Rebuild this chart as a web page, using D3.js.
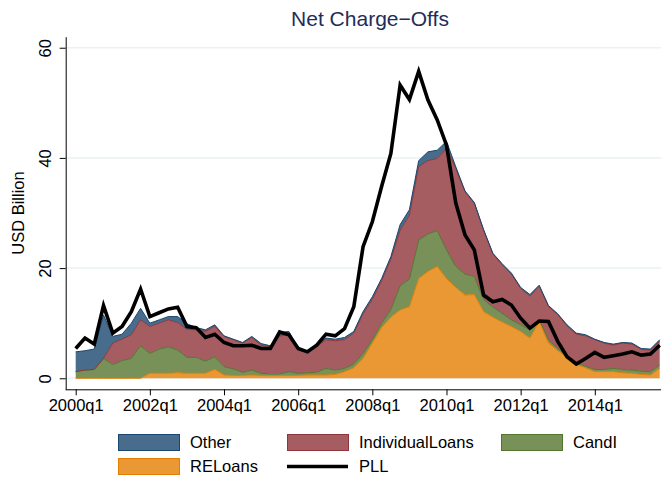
<!DOCTYPE html>
<html>
<head>
<meta charset="utf-8">
<script src="https://cdn.jsdelivr.net/npm/d3@7"></script>
<style>
  body { margin: 0; background: #fff; }
  svg { display: block; font-family: "Liberation Sans", Arial, sans-serif; }
</style>
</head>
<body>
<svg id="chart"></svg>
<script>
const w = 661;
const h = 478;

// quarterly, 2000q1 .. 2015q4
const quarters = d3.range(64).map(i => `${2000 + Math.floor(i / 4)}q${(i % 4) + 1}`);

const RELoans = [0,0,0,0,0,0,0,0,0.9,0.9,0.9,1.0,0.9,0.9,0.9,1.6,0.6,0.5,0.5,0.6,0.5,0.5,0.5,0.5,
  0.5,0.6,0.6,0.6,0.7,1.2,1.9,3.6,6.4,9.2,11.1,12.4,13.0,18.1,19.4,20.3,18.1,16.5,15.1,15.2,12.1,11.1,
  10.2,9.4,8.5,7.3,10.3,6.4,5.0,3.8,2.5,1.9,1.2,1.2,1.2,1.0,0.9,0.7,0.6,1.8];
const CandI = [1.2,1.5,1.6,3.6,2.5,3.2,3.6,5.9,3.6,4.4,4.8,4.1,2.9,2.9,2.2,2.3,1.5,1.2,0.6,0.9,0.4,0.3,0.3,0.7,
  0.4,0.4,0.5,1.2,0.8,0.6,0.7,0.9,0.6,0.8,1.4,4.4,5.0,7.0,6.8,6.5,5.2,3.8,3.8,3.3,2.2,1.8,
  1.6,1.2,1.2,1.5,0.4,0.6,0.4,0.3,0.3,0.3,0.4,0.4,0.6,0.6,0.6,0.6,0.6,0.6];
const IndividualLoans = [0,0,0,0,3.9,3.9,4.3,4.7,4.9,4.7,4.9,5.0,5.1,5.0,5.4,5.5,5.5,5.3,5.3,5.9,5.1,4.9,6.8,6.8,
  4.2,3.8,4.6,5.2,5.3,5.2,5.6,7.2,7.3,7.7,9.1,10.1,11.6,13.3,13.3,13.1,18.4,17.8,14.9,13.3,12.6,9.7,
  8.8,8.3,6.6,6.1,6.0,6.0,6.2,5.4,5.2,5.5,5.4,4.8,4.2,4.8,4.7,4.0,3.9,4.3];
const Other = [3.6,3.5,3.7,7.9,1.2,0.9,2.1,2.1,0.6,0.6,0.6,1.1,1.0,0.4,0.3,0.3,0.1,0.1,0.1,0.2,0.3,0.2,0.7,0.5,
  0.3,0.2,0.3,0.3,0.3,0.4,0.3,0.4,0.5,0.4,0.5,1.0,1.0,1.1,1.6,1.5,1.3,0.3,0.2,0.1,0.1,0.1,
  0.2,0.2,0.2,0.3,0.2,0.2,0.1,0.2,0.2,0.2,0.1,0.1,0.2,0.1,0.2,0.1,0.2,0.3];
const PLL = [5.4,7.3,6.2,13.2,8.2,9.4,12.1,16.2,11.2,11.9,12.6,12.9,9.4,9.2,7.4,8.0,6.5,5.9,5.9,6.0,5.4,5.4,8.4,7.9,
  5.4,4.8,6.0,8.0,7.7,9.0,13.0,23.9,28.4,34.8,40.8,53.2,50.6,55.7,50.5,46.9,42.3,31.8,26.0,23.3,15.1,13.9,
  14.3,13.3,10.9,9.1,10.4,10.3,6.7,3.9,2.6,3.6,4.7,3.8,4.1,4.4,4.8,4.2,4.4,6.0];

const yTicks = [0, 20, 40, 60];
const xTicks = [0, 8, 16, 24, 32, 40, 48, 56];

const stackKeys = ["RELoans", "CandI", "IndividualLoans", "Other"];
const colors = {
  Other: { fill: "#486c8c", stroke: "#1a476f" },
  IndividualLoans: { fill: "#a65d62", stroke: "#90353b" },
  CandI: { fill: "#779159", stroke: "#55752f" },
  RELoans: { fill: "#e99833", stroke: "#e37e00" }
};

const rows = quarters.map((q, i) => ({
  i, RELoans: RELoans[i], CandI: CandI[i], IndividualLoans: IndividualLoans[i], Other: Other[i]
}));

const svg = d3.select("#chart").attr("width", w).attr("height", h);

const x = d3.scaleLinear().domain([0, 63]).range([75.7, 659.7]);
const y = d3.scaleLinear().domain([-2, 62]).range([389.3, 36.7]);

// grid
svg.append("g").selectAll("line").data(yTicks).enter().append("line")
  .attr("x1", x(-1.08)).attr("x2", w)
  .attr("y1", d => y(d)).attr("y2", d => y(d))
  .attr("stroke", "#eaf2f3").attr("stroke-width", 1.5);

const series = d3.stack().keys(stackKeys)(rows);

const area = d3.area().x(d => x(d.data.i)).y0(d => y(d[0])).y1(d => y(d[1]));
const topLine = d3.line().x(d => x(d.data.i)).y(d => y(d[1]));

svg.append("g").selectAll("path").data(series).enter().append("path")
  .attr("d", area)
  .attr("fill", d => colors[d.key].fill);

svg.append("g").selectAll("path").data(series).enter().append("path")
  .attr("d", topLine)
  .attr("fill", "none")
  .attr("stroke", d => colors[d.key].stroke)
  .attr("stroke-width", 1);

svg.append("path").datum(PLL)
  .attr("d", d3.line().x((d, i) => x(i)).y(d => y(d)))
  .attr("fill", "none").attr("stroke", "#000").attr("stroke-width", 3.6)
  .attr("stroke-linejoin", "miter");

// axes
const xAxis = d3.axisBottom(x).tickValues(xTicks).tickFormat(i => quarters[i]).tickSize(6).tickPadding(4).tickSizeOuter(0);
const gx = svg.append("g").attr("transform", `translate(0,389.3)`).call(xAxis);
gx.select(".domain").attr("d", `M${x(-1.08)},0.5H${w}`);

const yAxis = d3.axisLeft(y).tickValues(yTicks).tickSize(6).tickSizeOuter(0);
const gy = svg.append("g").attr("transform", `translate(${x(-1.08)},0)`).call(yAxis);
gy.selectAll(".tick text")
  .attr("transform", "rotate(-90)")
  .attr("x", 0).attr("y", -15).attr("dy", 0)
  .attr("text-anchor", "middle");

svg.selectAll(".tick text").attr("font-size", 16.5).attr("fill", "#000").attr("font-family", "Liberation Sans, Arial, sans-serif");
svg.selectAll(".domain, .tick line").attr("stroke", "#000");

svg.append("text")
  .attr("transform", `translate(24,213) rotate(-90)`)
  .attr("text-anchor", "middle").attr("font-size", 16.5).text("USD Billion");

svg.append("text")
  .attr("x", 370).attr("y", 26)
  .attr("text-anchor", "middle").attr("font-size", 21).attr("fill", "#1e2d5a")
  .text("Net Charge\u2212Offs");

// legend
const legendItems = [
  { key: "Other", col: 0, row: 0 },
  { key: "IndividualLoans", col: 1, row: 0 },
  { key: "CandI", col: 2, row: 0 },
  { key: "RELoans", col: 0, row: 1 },
  { key: "PLL", col: 1, row: 1 }
];
const colX = [118, 287, 501];
const rowY = [434, 458];
const lg = svg.append("g");
legendItems.forEach(it => {
  const g = lg.append("g").attr("transform", `translate(${colX[it.col]},${rowY[it.row]})`);
  if (it.key === "PLL") {
    g.append("line").attr("x1", 0).attr("x2", 61).attr("y1", 8.5).attr("y2", 8.5)
      .attr("stroke", "#000").attr("stroke-width", 3.6);
  } else {
    g.append("rect").attr("x", 0.5).attr("y", 0.5).attr("width", 61).attr("height", 16)
      .attr("fill", colors[it.key].fill).attr("stroke", colors[it.key].stroke).attr("stroke-width", 1);
  }
  g.append("text").attr("x", 72).attr("y", 8.5).attr("dy", "0.35em")
    .attr("font-size", 16.5).text(it.key);
});
</script>
</body>
</html>
